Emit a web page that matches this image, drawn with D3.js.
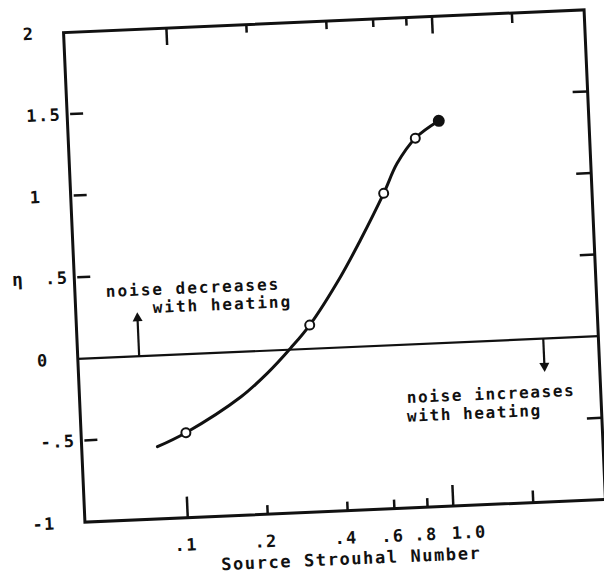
<!DOCTYPE html>
<html>
<head>
<meta charset="utf-8">
<script src="https://cdn.jsdelivr.net/npm/d3@7"></script>
<style>
  html, body { margin: 0; padding: 0; background: #fff; }
  svg { display: block; }
  text { font-family: "DejaVu Sans Mono", "Liberation Mono", monospace; font-weight: bold; fill: #111; }
</style>
</head>
<body>
<div id="chart"></div>
<script>
// ---- data ----
const xTicks = [0.1, 0.2, 0.4, 0.6, 0.8, 1.0, 2.0];
const xTickLabels = [".1", ".2", ".4", ".6", ".8", "1.0", ""];
const xMajorTicks = [0.1, 1.0];
const yTicks = [2, 1.5, 1, 0.5, 0, -0.5, -1];
const yTickLabels = ["2", "1.5", "1", ".5", "0", "-.5", "-1"];

const curveX = [0.079, 0.1016, 0.166, 0.21, 0.26, 0.309, 0.411, 0.495, 0.616, 0.70, 0.827, 1.02];
const curveY = [-0.558, -0.48, -0.275, -0.139, 0.01, 0.145, 0.433, 0.652, 0.931, 1.111, 1.26, 1.36];

const pointX = [0.1016, 0.309, 0.616, 0.827, 1.02];
const pointY = [-0.48, 0.145, 0.931, 1.26, 1.36];
const pointFilled = [false, false, false, false, true];

const xTitle = "Source Strouhal Number";
const yTitle = "η";
const noteUpLines = ["noise decreases", "with heating"];
const noteDownLines = ["noise increases", "with heating"];
const arrowUpX = 0.0698, arrowUpTop = 0.27;
const arrowDownX = 2.32, arrowDownTip = -0.204;
const noteUpAt = [[0.0536, 0.371], [0.0799, 0.261]];
const noteDownAt = [[0.697, -0.358], [0.693, -0.472]];

// ---- layout ----
const W = 604, H = 579;
const x0 = 74, x1 = 595, y0 = 21, y1 = 511;
const fs = 17, ls = 1.4;
const charW = fs * 0.602 + ls;

const svg = d3.select("#chart").append("svg").attr("width", W).attr("height", H);
const g = svg.append("g").attr("transform", "rotate(-2.5, 334, 266)");

const x = d3.scaleLog().domain([0.041, 3.74]).range([x0, x1]);
const y = d3.scaleLinear().domain([-1, 2]).range([y1, y0]);

// frame
g.append("rect").attr("x", x0).attr("y", y0).attr("width", x1 - x0).attr("height", y1 - y0)
  .attr("fill", "none").attr("stroke", "#111").attr("stroke-width", 3);

// zero line
g.append("line").attr("x1", x0).attr("x2", x1).attr("y1", y(0)).attr("y2", y(0))
  .attr("stroke", "#111").attr("stroke-width", 2.2);

// x ticks (bottom and top, inward)
xTicks.forEach((t, i) => {
  const major = xMajorTicks.includes(t);
  const lenB = major ? 21 : (t === 2.0 ? 12 : 9);
  const lenT = major ? 17 : (t === 2.0 ? 10 : 8);
  g.append("line").attr("x1", x(t)).attr("x2", x(t)).attr("y1", y1).attr("y2", y1 - lenB)
    .attr("stroke", "#111").attr("stroke-width", 2.5);
  g.append("line").attr("x1", x(t)).attr("x2", x(t)).attr("y1", y0).attr("y2", y0 + lenT)
    .attr("stroke", "#111").attr("stroke-width", 2.5);
  const lab = xTickLabels[i];
  if (lab) {
    const firstDigit = lab.search(/[0-9]/);
    g.append("text").attr("x", x(t) - firstDigit * charW - charW / 2 + 3).attr("y", y1 + 33)
      .attr("font-size", fs).style("letter-spacing", ls + "px").text(lab);
  }
});

// y ticks (left and right, inward) and labels
yTicks.forEach((t, i) => {
  const onEdge = (t === 2 || t === -1 || t === 0);
  if (!onEdge) {
    g.append("line").attr("x1", x0 + 3).attr("x2", x0 + 16).attr("y1", y(t)).attr("y2", y(t))
      .attr("stroke", "#111").attr("stroke-width", 2.5);
    g.append("line").attr("x1", x1).attr("x2", x1 - 15).attr("y1", y(t)).attr("y2", y(t))
      .attr("stroke", "#111").attr("stroke-width", 2.5);
  }
  const lab = yTickLabels[i];
  const isInt = lab.indexOf(".") < 0;
  g.append("text").attr("text-anchor", "end")
    .attr("x", x0 - 6 - (isInt ? 2 * charW : 0)).attr("y", y(t) + 6)
    .attr("font-size", fs).style("letter-spacing", ls + "px").text(lab);
});

// axis titles
g.append("text").attr("x", 17).attr("y", y(0.5) + 6).attr("text-anchor", "middle")
  .attr("font-size", fs + 1).attr("font-weight", "normal").text(yTitle);
g.append("text").attr("x", (x0 + x1) / 2 + 4).attr("y", y1 + 54).attr("text-anchor", "middle")
  .attr("font-size", fs).style("letter-spacing", "1.6px").text(xTitle);

// annotations
const arrowHead = (xx, yy, dir) => {
  const s = 5, h = 9;
  return `M${xx},${yy} L${xx - s},${yy - dir * h} L${xx + s},${yy - dir * h} Z`;
};
g.append("line").attr("x1", x(arrowUpX)).attr("x2", x(arrowUpX)).attr("y1", y(0)).attr("y2", y(arrowUpTop) + 6)
  .attr("stroke", "#111").attr("stroke-width", 2.2);
g.append("path").attr("d", arrowHead(x(arrowUpX), y(arrowUpTop), -1)).attr("fill", "#111");
g.append("line").attr("x1", x(arrowDownX)).attr("x2", x(arrowDownX)).attr("y1", y(0)).attr("y2", y(arrowDownTip) - 6)
  .attr("stroke", "#111").attr("stroke-width", 2.2);
g.append("path").attr("d", arrowHead(x(arrowDownX), y(arrowDownTip), 1)).attr("fill", "#111");

noteUpLines.forEach((l, i) => g.append("text").attr("font-size", fs - 1).style("letter-spacing", "2px")
  .attr("x", x(noteUpAt[i][0])).attr("y", y(noteUpAt[i][1])).text(l));
noteDownLines.forEach((l, i) => g.append("text").attr("font-size", fs - 1).style("letter-spacing", "1.6px")
  .attr("x", x(noteDownAt[i][0])).attr("y", y(noteDownAt[i][1])).text(l));

// curve
const pts = curveX.map((v, i) => [x(v), y(curveY[i])]);
g.append("path").attr("d", d3.line().curve(d3.curveCatmullRom.alpha(0.5))(pts))
  .attr("fill", "none").attr("stroke", "#111").attr("stroke-width", 3).attr("stroke-linecap", "round");

// markers
g.selectAll("circle.pt").data(pointX).join("circle").attr("class", "pt")
  .attr("cx", d => x(d)).attr("cy", (d, i) => y(pointY[i]))
  .attr("r", (d, i) => pointFilled[i] ? 5 : 4.5)
  .attr("fill", (d, i) => pointFilled[i] ? "#111" : "#fff")
  .attr("stroke", "#111").attr("stroke-width", 2);
</script>
</body>
</html>
